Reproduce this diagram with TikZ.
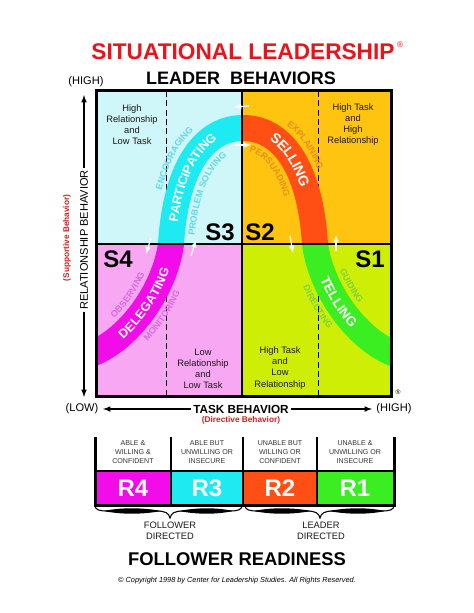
\documentclass[tikz,border=0pt]{standalone}
\usepackage{fontspec}
\setmainfont{Liberation Sans}
\usepackage{tikz}
\usetikzlibrary{shapes,arrows,positioning,decorations.text}

\definecolor{titlered}{HTML}{E8141B}
\definecolor{suppred}{HTML}{D02020}
\definecolor{qcyan}{HTML}{CFF6F9}
\definecolor{qgold}{HTML}{FFC40F}
\definecolor{qpink}{HTML}{F8A8F2}
\definecolor{qlime}{HTML}{CFEE05}
\definecolor{bmag}{HTML}{F20CEA}
\definecolor{bcyan}{HTML}{1EEAF2}
\definecolor{borange}{HTML}{FF4F14}
\definecolor{bgreen}{HTML}{3AEE22}
\definecolor{lcyan}{HTML}{62D8EA}
\definecolor{lorange}{HTML}{E8901A}
\definecolor{lpink}{HTML}{DA68E2}
\definecolor{lgreen}{HTML}{7AD63C}
\definecolor{cellgray}{HTML}{333333}

\def\bellpath{(88,355) .. controls (128,342) and (165,290) .. (171,244) .. controls (176,165) and (205,128) .. (243,128) .. controls (281,128) and (310,165) .. (315,244) .. controls (321,290) and (358,342) .. (398,355)}

\begin{document}
\begin{tikzpicture}[x=0.75pt,y=-0.75pt,
	quadtext/.style={align=center, font=\fontsize{7}{8.3}\selectfont, text=black!90},
	celltext/.style={align=center, font=\fontsize{5.3}{6.7}\selectfont, text=cellgray},
	sbig/.style={font=\bfseries\fontsize{18}{18}\selectfont, inner sep=0pt},
	rbig/.style={font=\bfseries\fontsize{18}{18}\selectfont, text=white, inner sep=0pt},
	axistext/.style={font=\fontsize{8.3}{8.3}\selectfont, inner sep=1.5pt},
	redtext/.style={font=\bfseries\fontsize{6.2}{6.2}\selectfont, text=suppred, inner sep=0pt},
	flow/.style={-latex, white, line width=0.9pt},
	band/.style={line width=19.5pt},
	bandword/.style n args={3}{decorate, decoration={text along path, text align={left, left indent=#1pt}, raise=-3.4pt,
		text={|\bfseries\fontsize{#2}{#2}\selectfont\color{white}|#3}}},
	sideword/.style n args={3}{decorate, decoration={text along path, text align={left, left indent=#1pt},
		text={|\bfseries\fontsize{6.8}{6.8}\selectfont\color{#2}|#3}}}]
	\useasboundingbox (0,0) rectangle (474,613);

	\node[font=\bfseries\fontsize{17}{17}\selectfont, text=titlered] (title) at (243,52) {SITUATIONAL LEADERSHIP};
	\node[font=\fontsize{6}{6}\selectfont, text=titlered, inner sep=0pt] (reg1) at (400,45) {®};
	\node[font=\bfseries\fontsize{13.5}{13.5}\selectfont] (leader) at (241,78) {LEADER\ \ BEHAVIORS};

	% quadrants
	\fill[qcyan] (96,91) rectangle (242,244);
	\fill[qgold] (242,91) rectangle (391,244);
	\fill[qpink] (96,244) rectangle (242,396);
	\fill[qlime] (242,244) rectangle (391,396);
	\draw[dash pattern=on 4.5pt off 2.5pt, line width=0.75pt] (166,91) -- (166,396);
	\draw[dash pattern=on 4.5pt off 2.5pt, line width=0.75pt] (318,91) -- (318,396);

	% the curve
	\begin{scope}
		\clip (96,244) rectangle (242,396);
		\draw[band, bmag] \bellpath;
	\end{scope}
	\begin{scope}
		\clip (96,91) rectangle (242,244);
		\draw[band, bcyan] \bellpath;
	\end{scope}
	\begin{scope}
		\clip (242,91) rectangle (391,244);
		\draw[band, borange] \bellpath;
	\end{scope}
	\begin{scope}
		\clip (242,244) rectangle (391,396);
		\draw[band, bgreen] \bellpath;
	\end{scope}

	\path[bandword={28}{9.5}{DELEGATING}] (88,355) .. controls (128,342) and (165,290) .. (171,244);
	\path[sideword={28.5}{lpink}{OBSERVING}] (82.7,338.8) .. controls (116.7,327.8) and (149,280.9) .. (154.1,241.8);
	\path[sideword={48}{lpink}{MONITORING}] (95.1,376.9) .. controls (143.1,361.3) and (186.6,302.2) .. (193.8,247);
	\path[bandword={16.5}{9.5}{PARTICIPATING}] (171,244) .. controls (176,165) and (205,128) .. (243,128);
	\path[sideword={40}{lcyan}{ENCOURAGING}] (154,243) .. controls (160,148) and (197,111) .. (243,111);
	\path[sideword={7}{lcyan}{PROBLEM SOLVING}] (194,245) .. controls (197,190) and (216,151) .. (243,151);
	\path[bandword={23}{10.5}{SELLING}] (243,128) .. controls (281,128) and (310,165) .. (315,244);
	\path[sideword={35}{lorange}{EXPLAINING}] (243,111) .. controls (289,111) and (326,148) .. (332,243);
	\path[sideword={4.5}{lorange}{PERSUADING}] (243,151) .. controls (270,151) and (289,190) .. (292,245);
	\path[bandword={26}{10}{TELLING}] (315,244) .. controls (321,290) and (358,342) .. (398,355);
	\path[sideword={22}{lgreen}{GUIDING}] (331.9,241.8) .. controls (337,280.9) and (369.3,327.8) .. (403.3,338.8);
	\path[sideword={31}{lgreen}{DIRECTING}] (292.2,247) .. controls (299.4,302.2) and (342.9,361.3) .. (390.9,376.9);

	\draw[line width=1.5pt] (242,91) -- (242,396);
	\draw[line width=1.5pt] (96,244) -- (391,244);
	\draw[line width=2.25pt] (96,91) rectangle (391,396);

	\draw[flow] (249,106) -- (234,107);
	\draw[flow] (235,145) -- (251,145);
	\draw[flow] (151,238) -- (146,254);
	\draw[flow] (191,256) -- (196,240);
	\draw[flow] (290,236) -- (293,253);
	\draw[flow] (336,251) -- (336,235);

	\node[quadtext] (hrlt) at (132,124.5) {High\\Relationship\\and\\Low Task};
	\node[quadtext] (hthr) at (353,124.5) {High Task\\and\\High\\Relationship};
	\node[quadtext] (lrlt) at (203,368.5) {Low\\Relationship\\and\\Low Task};
	\node[quadtext] (htlr) at (280,368) {High Task\\and\\Low\\Relationship};

	\node[sbig] (s3) at (220,232) {S3};
	\node[sbig] (s2) at (260,232) {S2};
	\node[sbig] (s4) at (118,259) {S4};
	\node[sbig] (s1) at (370,259) {S1};

	% axes
	\node[axistext] (yhigh) at (86,82) {(HIGH)};
	\node[axistext, rotate=90] (relb) at (84,240) {RELATIONSHIP BEHAVIOR};
	\node[redtext, rotate=90] (supp) at (67,238) {(Supportive Behavior)};
	\coordinate (ytop) at (84,95);
	\coordinate (ybot) at (84,397);
	\path[-latex, line width=0.9pt] (relb.east) edge (ytop) (relb.west) edge (ybot);

	\node[axistext] (xlow) at (82,409) {(LOW)};
	\node[axistext, font=\bfseries\fontsize{8.8}{8.8}\selectfont] (taskb) at (241,409) {TASK BEHAVIOR};
	\node[axistext] (xhigh) at (394,409) {(HIGH)};
	\coordinate (xleft) at (103,409);
	\coordinate (xright) at (372,409);
	\path[-latex, line width=0.9pt] (taskb.west) edge (xleft) (taskb.east) edge (xright);
	\node[redtext] (dirb) at (241,420) {(Directive Behavior)};
	\node[font=\fontsize{5}{5}\selectfont, inner sep=0pt] (reg2) at (398,392) {®};

	% readiness
	\fill[bmag] (95,472) rectangle (171,504);
	\fill[bcyan] (171,472) rectangle (243,504);
	\fill[borange] (243,472) rectangle (317,504);
	\fill[bgreen] (317,472) rectangle (394,504);
	\draw[line width=1.1pt] (171,437) -- (171,504);
	\draw[line width=1.1pt] (243,437) -- (243,504);
	\draw[line width=1.1pt] (317,437) -- (317,504);
	\draw[line width=1.8pt] (95,471) -- (394,471);
	\draw[line width=2.25pt] (95,437) -- (95,505) -- (394,505) -- (394,437);

	\node[celltext] (c4) at (133,452) {ABLE \&\\WILLING \&\\CONFIDENT};
	\node[celltext] (c3) at (207,452) {ABLE BUT\\UNWILLING OR\\INSECURE};
	\node[celltext] (c2) at (280,452) {UNABLE BUT\\WILLING OR\\CONFIDENT};
	\node[celltext] (c1) at (355,452) {UNABLE \&\\UNWILLING OR\\INSECURE};
	\node[rbig] (r4) at (133,488) {R4};
	\node[rbig] (r3) at (207,488) {R3};
	\node[rbig] (r2) at (280,488) {R2};
	\node[rbig] (r1) at (355,488) {R1};

	% braces
	\foreach \lft/\rgt/\tip in {95/242/170, 245/394/320} {
		\draw[line width=0.8pt] (\lft,505) .. controls (\lft,510) and ({\lft+4},511) .. ({\lft+13},511) -- ({\tip-13},511)
			.. controls ({\tip-5},511) and ({\tip-1},513) .. (\tip,518) .. controls ({\tip+1},513) and ({\tip+5},511) .. ({\tip+13},511)
			-- ({\rgt-13},511) .. controls ({\rgt-4},511) and (\rgt,510) .. (\rgt,505);
		\fill ({\lft+9},511) .. controls ({\lft+25},507.4) and ({\tip-27},507.4) .. ({\tip-9},511)
			.. controls ({\tip-27},514.6) and ({\lft+25},514.6) .. cycle;
		\fill ({\tip+9},511) .. controls ({\tip+27},507.4) and ({\rgt-25},507.4) .. ({\rgt-9},511)
			.. controls ({\rgt-25},514.6) and ({\tip+27},514.6) .. cycle;
	}

	\node[quadtext, font=\fontsize{7}{8.4}\selectfont] (fdir) at (170,531) {FOLLOWER\\DIRECTED};
	\node[quadtext, font=\fontsize{7}{8.4}\selectfont] (ldir) at (321,531) {LEADER\\DIRECTED};
	\node[font=\bfseries\fontsize{13.8}{13.8}\selectfont] (readiness) at (237,559) {FOLLOWER READINESS};
	\node[font=\itshape\fontsize{5.5}{5.5}\selectfont] (copy) at (237,581) {© Copyright 1998 by Center for Leadership Studies. All Rights Reserved.};
\end{tikzpicture}
\end{document}
